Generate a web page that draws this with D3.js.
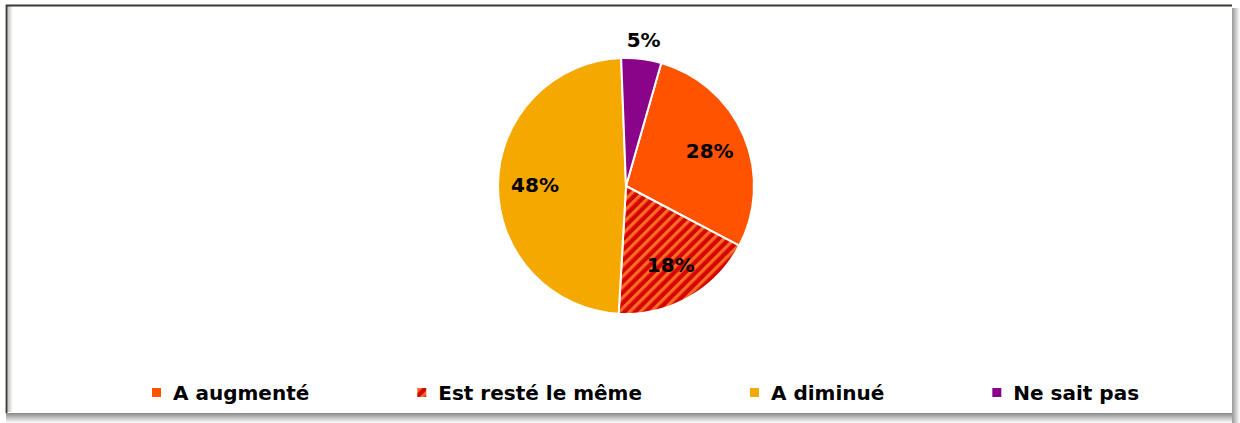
<!DOCTYPE html>
<html>
<head>
<meta charset="utf-8">
<script src="https://cdn.jsdelivr.net/npm/d3@7"></script>
<style>
  html, body { margin: 0; padding: 0; background: #fff; }
  svg { display: block; }
</style>
</head>
<body>
<div id="chart"></div>
<script>
// Chart data
const categories = ['A augmenté', 'Est resté le même', 'A diminué', 'Ne sait pas'];
const values = [28, 18, 48, 5];
const labels = ['28%', '18%', '48%', '5%'];
const colors = ['#FF5300', 'url(#hatch)', '#F4A800', '#890489'];

const width = 1240;
const height = 423;

const svg = d3.select('#chart')
    .append('svg')
    .attr('width', width)
    .attr('height', height);

const defs = svg.append('defs');

// Diagonal hatch for "Est resté le même"
const hatch = defs.append('pattern')
    .attr('id', 'hatch')
    .attr('patternUnits', 'userSpaceOnUse')
    .attr('width', 7.5)
    .attr('height', 7.5)
    .attr('patternTransform', 'rotate(45)');
hatch.append('rect')
    .attr('width', 7.5).attr('height', 7.5)
    .attr('fill', '#D20800');
hatch.append('rect')
    .attr('width', 3.2).attr('height', 7.5)
    .attr('fill', '#FF6A28');

// Shadow gradients for the frame
const gBottom = defs.append('linearGradient')
    .attr('id', 'shadowBottom').attr('x1', 0).attr('y1', 0).attr('x2', 0).attr('y2', 1);
gBottom.append('stop').attr('offset', '0%').attr('stop-color', '#888');
gBottom.append('stop').attr('offset', '100%').attr('stop-color', '#fff');
const gRight = defs.append('linearGradient')
    .attr('id', 'shadowRight').attr('x1', 0).attr('y1', 0).attr('x2', 1).attr('y2', 0);
gRight.append('stop').attr('offset', '0%').attr('stop-color', '#999');
gRight.append('stop').attr('offset', '100%').attr('stop-color', '#fff');
const gInner = defs.append('linearGradient')
    .attr('id', 'shadowInner').attr('x1', 0).attr('y1', 0).attr('x2', 1).attr('y2', 0);
gInner.append('stop').attr('offset', '0%').attr('stop-color', '#bbb');
gInner.append('stop').attr('offset', '100%').attr('stop-color', '#fff');

// Frame with soft shadow on right and bottom
svg.append('rect')
    .attr('x', 6).attr('y', 413)
    .attr('width', 1228).attr('height', 10)
    .attr('fill', 'url(#shadowBottom)');
svg.append('rect')
    .attr('x', 1232).attr('y', 8)
    .attr('width', 8).attr('height', 415)
    .attr('fill', 'url(#shadowRight)');
svg.append('rect')
    .attr('x', 6).attr('y', 5)
    .attr('width', 1226).attr('height', 408)
    .attr('fill', '#fff');
svg.append('rect')
    .attr('x', 7).attr('y', 6)
    .attr('width', 6).attr('height', 406)
    .attr('fill', 'url(#shadowInner)');
svg.append('path')
    .attr('d', 'M6.5,413 V5.5 H1232')
    .attr('fill', 'none')
    .attr('stroke', '#3a3a30')
    .attr('stroke-width', 1.8);

// Pie
const cx = 626, cy = 186, radius = 128;
const startAngle = 16 * Math.PI / 180;

const pie = d3.pie()
    .sort(null)
    .startAngle(startAngle)
    .endAngle(startAngle + 2 * Math.PI);

const arcs = pie(values);

const arc = d3.arc().innerRadius(0).outerRadius(radius);
const labelArc = d3.arc().innerRadius(91).outerRadius(91);
const outerLabelArc = d3.arc().innerRadius(147).outerRadius(147);

const g = svg.append('g')
    .attr('transform', `translate(${cx},${cy})`);

g.selectAll('path.slice')
    .data(arcs)
    .enter()
    .append('path')
    .attr('class', 'slice')
    .attr('d', arc)
    .attr('fill', (d, i) => colors[i])
    .attr('stroke', '#fff')
    .attr('stroke-width', 2)
    .attr('stroke-linejoin', 'round');

g.selectAll('text.pct')
    .data(arcs)
    .enter()
    .append('text')
    .attr('class', 'pct')
    .attr('transform', d => {
        const p = d.data < 10 ? outerLabelArc.centroid(d) : labelArc.centroid(d);
        return `translate(${p})`;
    })
    .attr('text-anchor', 'middle')
    .attr('dy', '0.36em')
    .style('font-family', '"DejaVu Sans", sans-serif')
    .style('font-weight', 'bold')
    .style('font-size', '20px')
    .style('fill', '#000')
    .text((d, i) => labels[i]);

// Legend
const legend = svg.append('g').attr('class', 'legend');
let x = 152;
const legendY = 392.5;
categories.forEach((name, i) => {
    legend.append('rect')
        .attr('x', x).attr('y', legendY - 4.5)
        .attr('width', 9).attr('height', 9)
        .attr('fill', colors[i]);
    const t = legend.append('text')
        .attr('x', x + 21)
        .attr('y', legendY)
        .attr('dy', '0.36em')
        .style('font-family', '"DejaVu Sans", sans-serif')
        .style('font-weight', 'bold')
        .style('font-size', '20px')
        .style('fill', '#000')
        .text(name);
    x += 21 + t.node().getComputedTextLength() + 108;
});
</script>
</body>
</html>
